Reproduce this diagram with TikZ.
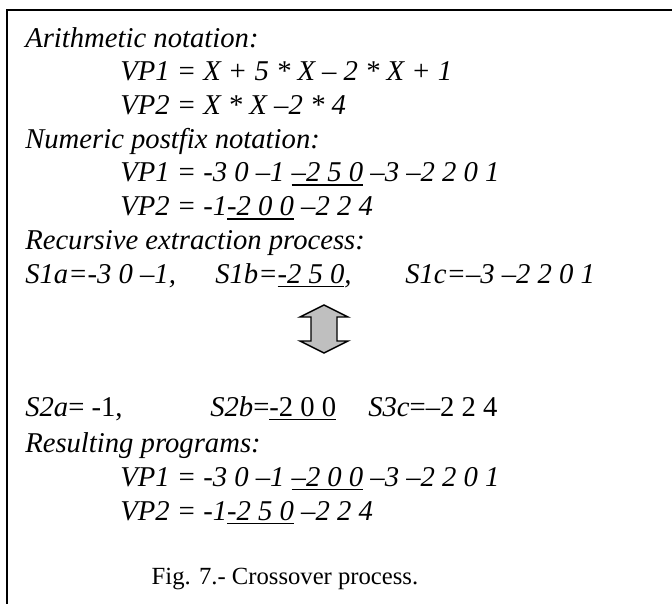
\documentclass[tikz,border=0pt]{standalone}
\usepackage{fontspec}
\setmainfont{Liberation Serif}
% thick underline for the swapped sub-trees
\newcommand\ulx[1]{\leavevmode\setbox0=\hbox{#1}\rlap{\rule[-3.3pt]{\wd0}{1.4pt}}\box0\relax}
\begin{document}
\begin{tikzpicture}[x=0.75pt,y=-0.75pt,
  txt/.style={anchor=base west,inner sep=0pt,font=\fontsize{21.5}{24}\selectfont\itshape},
  rom/.style={anchor=base west,inner sep=0pt,font=\fontsize{21.5}{24}\selectfont},
  caption/.style={anchor=base,inner sep=0pt,font=\fontsize{18.5}{22}\selectfont},
  frame/.style={line width=1.5pt,line cap=rect}]
\useasboundingbox (0,0) rectangle (672,604);
% open frame: top and left sides only
\draw[frame] (672,10) -- (7,10) -- (7,604);
% text block
\node[txt] (h1) at (25,47) {Arithmetic notation:};
\node[txt] (a1) at (120,80.7) {VP1 = X + 5 * X – 2 * X + 1};
\node[txt] (a2) at (120,114.4) {VP2 = X * X –2 * 4};
\node[txt] (h2) at (25,148) {Numeric postfix notation:};
\node[txt] (n1) at (120,181.8) {VP1 = -3 0 –1 \ulx{–2 5 0} –3 –2 2 0 1};
\node[txt] (n2) at (120,215.5) {VP2 = -1\ulx{-2 0 0} –2 2 4};
\node[txt] (h3) at (25,249) {Recursive extraction process:};
\node[txt] (s1a) at (25,283) {S1a=-3 0 –1,};
\node[txt] (s1b) at (215,283) {S1b=\ulx{-2 5 0},};
\node[txt] (s1c) at (405,283) {S1c=–3 –2 2 0 1};
% exchange arrow
\draw[line width=1.1pt,fill=black!25,line join=miter]
  (324,305) -- (348,317) -- (337,317) -- (337,341) -- (348,341)
  -- (324,353) -- (300,341) -- (311,341) -- (311,317) -- (300,317) -- cycle;
\node[rom] (s2a) at (25,416) {\textit{S2a}= -1,};
\node[rom] (s2b) at (210,416) {\textit{S2b}=\ulx{-2 0 0}};
\node[rom] (s3c) at (368,416) {\textit{S3c}=–2 2 4};
\node[txt] (h4) at (25,452) {Resulting programs:};
\node[txt] (r1) at (120,486) {VP1 = -3 0 –1 \ulx{–2 0 0} –3 –2 2 0 1};
\node[txt] (r2) at (120,520) {VP2 = -1\ulx{-2 5 0} –2 2 4};
\node[caption] (cap) at (285,584) {Fig. 7.- Crossover process.};
\end{tikzpicture}
\end{document}
